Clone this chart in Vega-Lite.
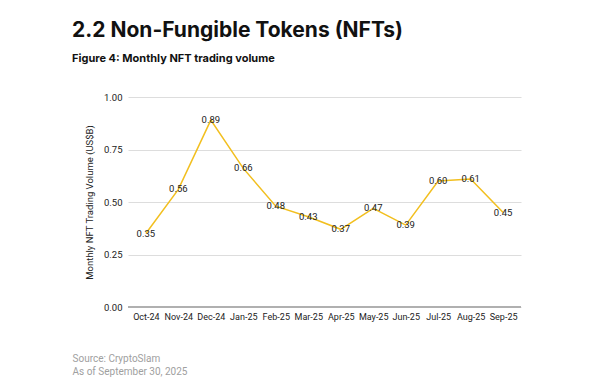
{
  "$schema": "https://vega.github.io/schema/vega-lite/v6.json",
  "width": 393,
  "height": 210,
  "autosize": "none",
  "padding": {"left": 128, "top": 97, "right": 79, "bottom": 77},
  "background": "white",
  "view": {"stroke": null},
  "title": {
    "text": "2.2 Non-Fungible Tokens (NFTs)",
    "subtitle": "Figure 4: Monthly NFT trading volume",
    "anchor": "start",
    "frame": "group",
    "dx": -56,
    "offset": 28,
    "font": "Inter",
    "fontSize": 21,
    "fontWeight": "bold",
    "color": "#111111",
    "subtitleFont": "Inter",
    "subtitleFontSize": 11,
    "subtitleFontWeight": "bold",
    "subtitleColor": "#111111",
    "subtitlePadding": 12
  },
  "data": {
    "values": [
      {"month": "Oct-24", "v": 0.35},
      {"month": "Nov-24", "v": 0.56},
      {"month": "Dec-24", "v": 0.89},
      {"month": "Jan-25", "v": 0.66},
      {"month": "Feb-25", "v": 0.48},
      {"month": "Mar-25", "v": 0.43},
      {"month": "Apr-25", "v": 0.37},
      {"month": "May-25", "v": 0.47},
      {"month": "Jun-25", "v": 0.39},
      {"month": "Jul-25", "v": 0.60},
      {"month": "Aug-25", "v": 0.61},
      {"month": "Sep-25", "v": 0.45}
    ]
  },
  "encoding": {
    "x": {
      "field": "month",
      "type": "ordinal",
      "sort": null,
      "scale": {"type": "point", "padding": 0.55},
      "axis": {
        "title": ["Source: CryptoSlam", "As of September 30, 2025"],
        "titleFont": "Roboto",
        "titleFontSize": 10,
        "titleFontWeight": "normal",
        "titleColor": "#a0a0a0",
        "titleAlign": "left",
        "titleAnchor": "start",
        "titleBaseline": "alphabetic",
        "titleX": -56,
        "titleY": 54,
        "titleLineHeight": 13,
        "labelAngle": 0,
        "labelFont": "Roboto",
        "labelFontSize": 9,
        "labelColor": "#222222",
        "labelPadding": 5,
        "ticks": false,
        "domain": false,
        "grid": false
      }
    },
    "y": {
      "field": "v",
      "type": "quantitative",
      "scale": {"domain": [0, 1]},
      "axis": {
        "title": "Monthly NFT Trading Volume (US$B)",
        "titleFont": "Roboto",
        "titleFontSize": 9.5,
        "titleFontWeight": "normal",
        "titleColor": "#222222",
        "titlePadding": 9,
        "values": [0, 0.25, 0.5, 0.75, 1],
        "format": ".2f",
        "labelFont": "Roboto",
        "labelFontSize": 9.5,
        "labelColor": "#222222",
        "labelPadding": 6,
        "ticks": false,
        "domain": false,
        "gridColor": "#dddddd",
        "gridWidth": 1
      }
    }
  },
  "layer": [
    {
      "mark": {"type": "rule", "color": "#b0b0b0", "strokeWidth": 2},
      "data": {"values": [{"z": 0}]},
      "encoding": {"y": {"field": "z", "type": "quantitative"}, "x": null}
    },
    {
      "mark": {"type": "line", "color": "#F2BF1F", "strokeWidth": 1.5}
    },
    {
      "mark": {"type": "text", "font": "Roboto", "fontSize": 9.5, "color": "#222222", "baseline": "middle"},
      "encoding": {"text": {"field": "v", "type": "quantitative", "format": ".2f"}}
    }
  ]
}
